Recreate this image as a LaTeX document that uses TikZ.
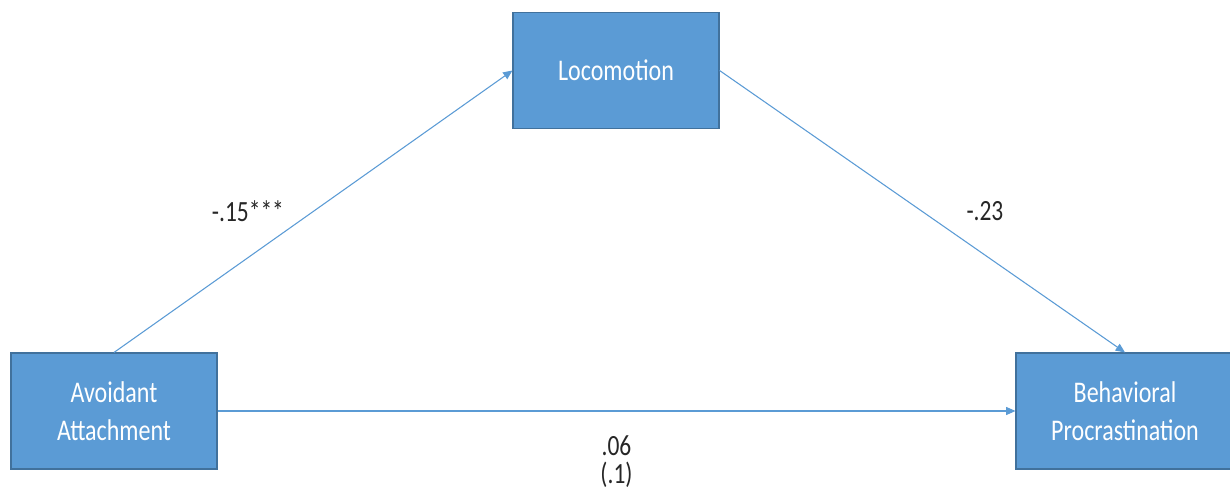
\documentclass[tikz,border=0pt]{standalone}
\usepackage{fontspec}
\setmainfont{Carlito}
\usetikzlibrary{arrows.meta}
\usetikzlibrary{positioning}

\definecolor{boxblue}{HTML}{5B9BD5}
\definecolor{boxedge}{HTML}{41719C}
\definecolor{labelgray}{HTML}{262626}

% squeeze text sideways a little
\newcommand{\narrow}[1]{\scalebox{0.8}[1]{#1}}

\tikzset{
  var/.style={rectangle, draw=boxedge, line width=0.8pt, fill=boxblue, text=white,
    minimum width=154.5pt, minimum height=87pt, inner sep=0pt, align=center,
    font=\fontsize{22.5}{28.5}\selectfont},
  link/.style={draw=boxblue, line width=0.8pt, -{Triangle[length=7pt,width=6pt]}},
  coef/.style={text=labelgray, inner sep=0pt, align=center,
    font=\fontsize{22}{21}\selectfont}
}

\begin{document}
\begin{tikzpicture}[x=0.75pt, y=0.75pt]
  \useasboundingbox (0,0) rectangle (1230,498);

  % Define nodes
  \node[var] (avoid) at (114,87) {\narrow{Avoidant}\\\narrow{Attachment}};
  \node[var] (loco) at (616,427.5) {\narrow{Locomotion}};
  \node[var, minimum width=163.5pt] (behav) at (1125,87) {\narrow{Behavioral}\\\narrow{Procrastination}};

  % Connect nodes
  \draw[link] (avoid.north) -- node[coef, xshift=-49pt] {\narrow{-.15***}} (loco.west);
  \draw[link] (loco.east) -- node[coef, xshift=47pt] {\narrow{-.23}} (behav.north);
  \draw[link] (avoid.east) -- node[coef, below=18pt] {\narrow{.06}\\\narrow{(.1)}} (behav.west);
\end{tikzpicture}
\end{document}
